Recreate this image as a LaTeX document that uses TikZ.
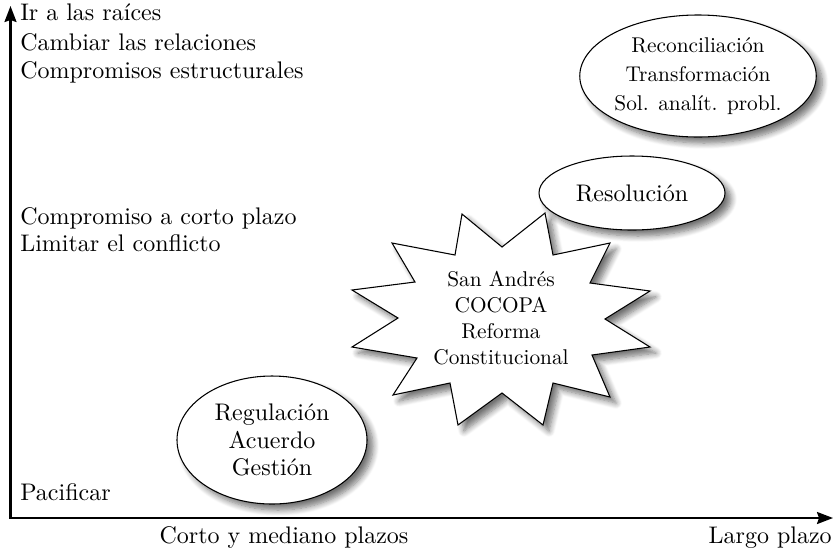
\documentclass[tikz,border=0pt]{standalone}
\usepackage{fontspec}
\setmainfont{lmroman10-regular.otf}
\usetikzlibrary{arrows.meta,shapes.geometric,shadows.blur}

\begin{document}
\begin{tikzpicture}[x={(0.75pt,0pt)},y={(0pt,-0.75pt)},
    lbl/.style={anchor=base west, inner sep=0pt, font=\fontsize{18}{22}\selectfont},
    softshadow/.style={blur shadow={shadow xshift=4.5pt, shadow yshift=-4.5pt, shadow blur radius=4.5pt, shadow blur steps=8, shadow opacity=55}},
    oval/.style={ellipse, draw, line width=0.8pt, fill=white, align=center, inner sep=0pt, softshadow},
    burst/.style={draw, line width=0.8pt, fill=white, line join=miter, softshadow},
    axisline/.style={line width=1.6pt, line join=miter, {Stealth[length=12pt,width=9pt,inset=1.5pt]}-{Stealth[length=12pt,width=9pt,inset=1.5pt]}}]
  \useasboundingbox (0,0) rectangle (837,551);
  % axes
  \coordinate (O) at (10.5,518);
  \coordinate (ytop) at (10.5,6);
  \coordinate (xend) at (833,518);
  \draw[axisline] (ytop) -- (O) -- (xend);
  % left labels
  \node[lbl] (raices) at (20,20) {Ir a las raíces};
  \node[lbl] (relaciones) at (20,50) {Cambiar las relaciones};
  \node[lbl] (estructurales) at (20,78) {Compromisos estructurales};
  \node[lbl] (cortoplazo) at (20,224) {Compromiso a corto plazo};
  \node[lbl] (limitar) at (20,251) {Limitar el conflicto};
  \node[lbl] (pacificar) at (20,500) {Pacificar};
  % bottom labels
  \node[lbl, anchor=base] (corto) at (284,543) {Corto y mediano plazos};
  \node[lbl, anchor=base east] (largo) at (832,543) {Largo plazo};
  % starburst
  \draw[burst] (352,290) -- (415,282) -- (392,243) -- (455,255) -- (462,214) -- (502,247)
    -- (545,213) -- (553,255) -- (610,243) -- (590,283) -- (650,291) -- (605,319)
    -- (650,347) -- (592,355) -- (610,397) -- (553,383) -- (543,425) -- (502,393)
    -- (458,425) -- (450,383) -- (393,395) -- (417,358) -- (352,347) -- (398,318) -- cycle;
  \node[align=center, inner sep=0pt, font=\fontsize{16}{19.3}\selectfont] (sanandres) at (501,318) {San Andrés\\COCOPA\\Reforma\\Constitucional};
  % ovals
  \node[oval, font=\fontsize{18}{20.6}\selectfont, minimum width=142.5pt, minimum height=96pt] (regulacion) at (272,440) {Regulación\\Acuerdo\\Gestión};
  \node[oval, font=\fontsize{18}{21.5}\selectfont, minimum width=139.5pt, minimum height=55.5pt] (resolucion) at (632,193) {Resolución};
  \node[oval, font=\fontsize{16}{21.75}\selectfont, minimum width=177pt, minimum height=91.5pt] (reconciliacion) at (698,76) {Reconciliación\\Transformación\\Sol. analít. probl.};
\end{tikzpicture}
\end{document}
